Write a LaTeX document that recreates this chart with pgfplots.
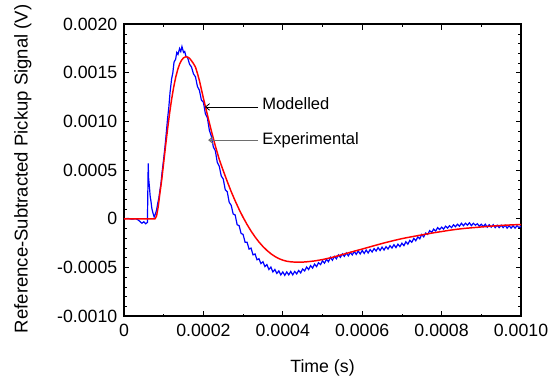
\documentclass[border=0pt]{standalone}
\usepackage{pgfplots}
\pgfplotsset{compat=1.18}
\usepackage{fontspec}
\setmainfont{Liberation Sans}
\usetikzlibrary{arrows.meta}
\definecolor{expblue}{RGB}{0,0,255}
\definecolor{modred}{RGB}{255,0,0}
\definecolor{arrgrey}{RGB}{110,110,110}
\begin{document}
\begin{tikzpicture}
\begin{axis}[
  width=297.75pt, height=219pt, scale only axis,
  xmin=0, xmax=0.001, ymin=-0.001, ymax=0.002,
  scaled ticks=false,
  xtick={0,0.0002,0.0004,0.0006,0.0008,0.001},
  xticklabels={0,0.0002,0.0004,0.0006,0.0008,0.0010},
  ytick={-0.001,-0.0005,0,0.0005,0.001,0.0015,0.002},
  yticklabels={-0.0010,-0.0005,0,0.0005,0.0010,0.0015,0.0020},
  minor x tick num=1, minor y tick num=4,
  tick align=inside, major tick length=4pt, minor tick length=2pt,
  axis line style={line width=1.1pt},
  every tick/.style={black, line width=0.6pt},
  tick label style={font=\fontsize{13.3}{16}\selectfont},
  xticklabel style={yshift=-2.5pt},
  yticklabel style={xshift=-1.5pt},
  xlabel style={font=\fontsize{13.3}{16}\selectfont, at={(axis description cs:0.5,-0.178)}, anchor=center},
  ylabel style={font=\fontsize{13.9}{16}\selectfont, at={(axis description cs:-0.255,0.505)}, anchor=center},
  xlabel={Time (s)},
  ylabel={Reference-Subtracted Pickup Signal (V)},
  clip=true,
]
% Experimental (blue)
\addplot[expblue, line width=0.9pt] table {
x y
0 0
0.00001 0.000005
0.00002 -0.000003
0.00003 0.000002
0.000035 -0.00001
0.00004 -0.000025
0.000045 -0.000045
0.00005 -0.00003
0.000055 -0.00005
0.000059 -0.000035
0.000061 0.00057
0.000062 0.00042
0.000064 0.00033
0.000066 0.00023
0.000068 0.00018
0.00007 0.00011
0.000073 0.00006
0.000076 0.00002
0.000079 0.00005
0.000082 0.00009
0.000085 0.00016
0.000088 0.00022
0.00009 0.00028
0.000093 0.00036
0.000096 0.00048
0.0001 0.00062
0.000103 0.00073
0.000106 0.00086
0.00011 0.00104
0.000113 0.00115
0.000116 0.0013
0.00012 0.00144
0.000123 0.0015
0.000126 0.00161
0.00013 0.00164
0.000133 0.00171
0.000136 0.00169
0.00014 0.00175
0.000143 0.00172
0.000146 0.00177
0.00015 0.00171
0.000153 0.00172
0.000156 0.00167
0.00016 0.00166
0.000165 0.00159
0.00017 0.00156
0.000175 0.00149
0.00018 0.00146
0.000185 0.00136
0.00019 0.00132
0.000195 0.00122
0.0002 0.0012
0.000205 0.00108
0.00021 0.00104
0.000215 0.00091
0.00022 0.00085
0.000225 0.00074
0.00023 0.0007
0.000235 0.00058
0.00024 0.00054
0.000245 0.00044
0.00025 0.00041
0.000255 0.0003
0.00026 0.00028
0.000265 0.00017
0.00027 0.00014
0.000275 0.00005
0.00028 0.00004
0.000285 -0.00006
0.00029 -0.00007
0.000295 -0.00015
0.0003 -0.00016
0.000305 -0.00024
0.00031 -0.00024
0.000315 -0.00031
0.00032 -0.0003
0.000325 -0.00037
0.00033 -0.00036
0.000335 -0.00042
0.00034 -0.00041
0.000345 -0.00046
0.00035 -0.00044
0.000355 -0.00049
0.00036 -0.00047
0.000365 -0.00052
0.00037 -0.000495
0.000375 -0.000545
0.00038 -0.00052
0.000385 -0.00056
0.00039 -0.000535
0.000395 -0.000575
0.0004 -0.000545
0.000405 -0.00058
0.00041 -0.000545
0.000415 -0.000575
0.00042 -0.00054
0.000425 -0.000575
0.00043 -0.00054
0.000435 -0.000565
0.00044 -0.00053
0.000445 -0.000555
0.00045 -0.000515
0.000455 -0.000535
0.00046 -0.000495
0.000465 -0.00052
0.00047 -0.00048
0.000475 -0.000505
0.00048 -0.000465
0.000485 -0.00049
0.00049 -0.00045
0.000495 -0.00047
0.0005 -0.00043
0.000505 -0.000455
0.00051 -0.000415
0.000515 -0.00044
0.00052 -0.000395
0.000525 -0.000425
0.00053 -0.000385
0.000535 -0.00041
0.00054 -0.00037
0.000545 -0.000395
0.00055 -0.00036
0.000555 -0.000385
0.00056 -0.00035
0.000565 -0.00038
0.00057 -0.000345
0.000575 -0.00037
0.00058 -0.000335
0.000585 -0.000365
0.00059 -0.00033
0.000595 -0.00036
0.0006 -0.000325
0.000605 -0.000355
0.00061 -0.00032
0.000615 -0.00035
0.00062 -0.000315
0.000625 -0.00034
0.00063 -0.000305
0.000635 -0.00033
0.00064 -0.000295
0.000645 -0.000325
0.00065 -0.00029
0.000655 -0.00032
0.00066 -0.000285
0.000665 -0.00031
0.00067 -0.000275
0.000675 -0.0003
0.00068 -0.000265
0.000685 -0.000295
0.00069 -0.00026
0.000695 -0.000285
0.0007 -0.00025
0.000705 -0.000275
0.00071 -0.000235
0.000715 -0.00026
0.00072 -0.00022
0.000725 -0.00024
0.00073 -0.0002
0.000735 -0.000225
0.00074 -0.000185
0.000745 -0.000205
0.00075 -0.00016
0.000755 -0.000185
0.00076 -0.000145
0.000765 -0.00016
0.00077 -0.00012
0.000775 -0.00014
0.00078 -0.000105
0.000785 -0.000125
0.00079 -0.00009
0.000795 -0.00011
0.0008 -0.000085
0.000805 -0.000105
0.00081 -0.000075
0.000815 -0.000095
0.00082 -0.00007
0.000825 -0.00009
0.00083 -0.00006
0.000835 -0.00008
0.00084 -0.000055
0.000845 -0.000075
0.00085 -0.000045
0.000855 -0.00007
0.00086 -0.000045
0.000865 -0.000065
0.00087 -0.00004
0.000875 -0.00007
0.00088 -0.000045
0.000885 -0.000065
0.00089 -0.00005
0.000895 -0.000075
0.0009 -0.000055
0.000905 -0.00008
0.00091 -0.000055
0.000915 -0.000085
0.00092 -0.00006
0.000925 -0.000085
0.00093 -0.00006
0.000935 -0.00009
0.00094 -0.000065
0.000945 -0.00009
0.00095 -0.000065
0.000955 -0.00009
0.00096 -0.000065
0.000965 -0.000095
0.00097 -0.00007
0.000975 -0.000095
0.00098 -0.00007
0.000985 -0.000095
0.00099 -0.00007
0.000995 -0.00009
0.001 -0.000075
};
% Modelled (red)
\addplot[modred, line width=1.1pt] table {
x y
0 0
0.00007 0
0.000078 0
0.000082 0.00003
0.000086 0.00012
0.00009 0.00025
0.000095 0.0004
0.0001 0.00058
0.000105 0.00076
0.00011 0.00093
0.000115 0.00109
0.00012 0.00123
0.000125 0.00135
0.00013 0.00145
0.000135 0.00153
0.00014 0.00159
0.000145 0.00163
0.00015 0.001655
0.000155 0.001664
0.00016 0.001663
0.000165 0.00165
0.00017 0.001625
0.000175 0.001595
0.00018 0.00156
0.000185 0.001495
0.00019 0.00142
0.000195 0.00133
0.0002 0.00124
0.00021 0.00107
0.00022 0.000905
0.00023 0.00075
0.00024 0.00061
0.00025 0.000495
0.00026 0.000385
0.00027 0.00028
0.00028 0.000185
0.00029 0.000097
0.0003 0.000016
0.00031 -0.000058
0.00032 -0.000125
0.00033 -0.000185
0.00034 -0.000238
0.00035 -0.000284
0.00036 -0.000324
0.00037 -0.000358
0.00038 -0.000386
0.00039 -0.000408
0.0004 -0.000424
0.00041 -0.000435
0.00042 -0.000441
0.00043 -0.000444
0.00044 -0.000445
0.00045 -0.000444
0.00046 -0.000441
0.00048 -0.000432
0.0005 -0.000418
0.00052 -0.0004
0.00054 -0.000378
0.00056 -0.000355
0.00058 -0.000332
0.0006 -0.00031
0.00062 -0.000287
0.00064 -0.000264
0.00066 -0.000242
0.00068 -0.000222
0.0007 -0.000203
0.00072 -0.000187
0.00074 -0.000172
0.00076 -0.000157
0.00078 -0.000143
0.0008 -0.00013
0.00082 -0.000117
0.00084 -0.000106
0.00086 -0.000097
0.00088 -0.00009
0.0009 -0.000083
0.00092 -0.000076
0.00094 -0.00007
0.00096 -0.000065
0.00098 -0.000061
0.001 -0.000058
};
% annotations
\draw[black, line width=0.6pt, -{Straight Barb[length=3pt,width=5pt]}] (axis cs:0.000338,0.00115) -- (axis cs:0.000204,0.00115);
\draw[arrgrey, line width=0.8pt, -{Straight Barb[length=3pt,width=5pt]}] (axis cs:0.000338,0.000809) -- (axis cs:0.000212,0.000809);
\node[anchor=base west, inner sep=0pt, font=\fontsize{12.4}{15}\selectfont] at (axis cs:0.0003476,0.001124) {Modelled};
\node[anchor=base west, inner sep=0pt, font=\fontsize{12.4}{15}\selectfont] at (axis cs:0.0003476,0.000767) {Experimental};
\end{axis}
\path (-93pt,-48.75pt) rectangle (323.25pt,237pt);
\end{tikzpicture}
\end{document}
